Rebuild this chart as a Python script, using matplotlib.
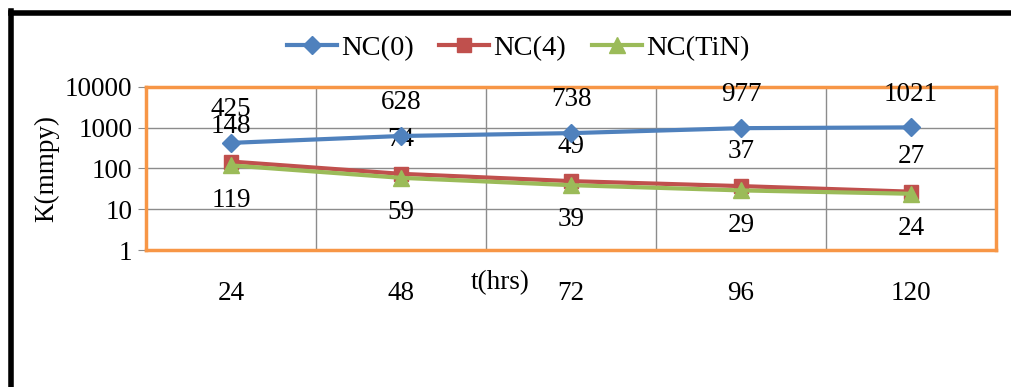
import numpy as np
import matplotlib.pyplot as plt
from matplotlib.lines import Line2D

plt.rcParams["font.family"] = ["Liberation Serif", "DejaVu Serif"]

hours = ["24", "48", "72", "96", "120"]
nc0 = [425, 628, 738, 977, 1021]
nc4 = [148, 74, 49, 37, 27]
nc_tin = [119, 59, 39, 29, 24]

blue = "#4F81BD"
red = "#C0504D"
green = "#9BBB59"
orange = "#F79646"
fs = 19.5

if __name__ == "__main__":
    fig = plt.figure(figsize=(10.12, 3.87), dpi=100)
    ax = fig.add_axes([0.1443, 0.354, 0.8399, 0.4212])
    x = np.arange(len(hours))

    ax.plot(x, nc0, color=blue, lw=3, marker="D", ms=9, label="NC(0)", zorder=4)
    ax.plot(x, nc4, color=red, lw=3, marker="s", ms=10, label="NC(4)", zorder=4)
    ax.plot(x, nc_tin, color=green, lw=3, marker="^", ms=11, label="NC(TiN)", zorder=5)

    # value labels: NC(0) and NC(4) above, NC(TiN) below
    for xi, v in zip(x, nc0):
        ax.annotate(str(v), (xi, v), xytext=(0, 24), textcoords="offset points",
                    ha="center", va="center", fontsize=fs)
    for xi, v in zip(x, nc4):
        ax.annotate(str(v), (xi, v), xytext=(0, 25), textcoords="offset points",
                    ha="center", va="center", fontsize=fs)
    for xi, v in zip(x, nc_tin):
        ax.annotate(str(v), (xi, v), xytext=(0, -25), textcoords="offset points",
                    ha="center", va="center", fontsize=fs)

    ax.set_yscale("log")
    ax.set_ylim(1, 10000)
    ax.set_yticks([1, 10, 100, 1000, 10000])
    ax.set_yticklabels(["1", "10", "100", "1000", "10000"])
    ax.minorticks_off()
    ax.set_xlim(-0.5, 4.5)
    ax.set_xticks(x)
    ax.set_xticklabels(hours)
    ax.set_xticks(np.arange(-0.5, 5, 1), minor=True)

    ax.grid(True, which="major", axis="y", color="#8c8c8c", lw=1)
    ax.grid(True, which="minor", axis="x", color="#8c8c8c", lw=1)
    ax.tick_params(axis="y", labelsize=fs, length=6, color="#8c8c8c", pad=4)
    ax.tick_params(axis="x", which="major", labelsize=fs, length=0, pad=22)
    ax.tick_params(axis="x", which="minor", length=0)

    for s in ax.spines.values():
        s.set_color(orange)
        s.set_linewidth(2.5)

    fig.text(500 / 1012, 1 - 283 / 387, "t(hrs)", ha="center", va="center", fontsize=fs)
    fig.text(47 / 1012, 1 - 168 / 387, "K(mmpy)", ha="center", va="center",
             rotation=90, fontsize=fs)

    fig.legend(loc="center", bbox_to_anchor=(518 / 1012, 1 - 48 / 387), ncol=3,
               frameon=False, fontsize=20.5, handlelength=1.75, handletextpad=0.15,
               columnspacing=0.9)

    # outer chart frame
    fig.add_artist(Line2D([0.0105, 0.0105], [0, 1 - 11 / 387], color="black", lw=4,
                          transform=fig.transFigure))
    fig.add_artist(Line2D([0.0105, 1.0], [1 - 13 / 387, 1 - 13 / 387], color="black", lw=4,
                          transform=fig.transFigure))

    fig.savefig("out.png", dpi=100)
